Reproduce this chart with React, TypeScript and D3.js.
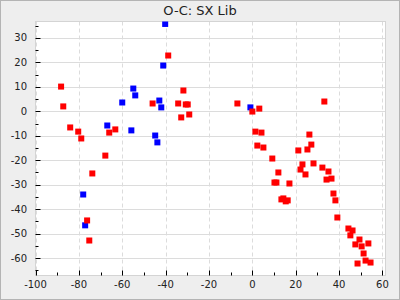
import React from "react";
import * as d3 from "d3";

const title = "O-C: SX Lib";

const redX = [-88.2, -87.2, -84.0, -80.3, -78.9, -66.0, -63.2, -67.8, -73.8, -76.2, -75.2, -46.0, -38.8, -31.8, -34.2, -30.7, -29.8, -32.8, -29.1, -6.9, 0, 3.2, 33.2, 1.4, 4.2, 26.3, 2.3, 5.1, 27.2, 21.2, 25.4, 9.2, 23.1, 22.2, 28.2, 32.3, 35.1, 24.5, 12.0, 10.2, 11.1, 17.1, 34.2, 36.5, 37.4, 38.3, 13.4, 14.3, 15.4, 16.3, 39.2, 44.3, 46.2, 45.2, 49.4, 47.5, 53.5, 50.4, 51.3, 52.2, 54.5, 48.5];
const redY = [10.1, 2.0, -6.6, -8.3, -11.1, -8.7, -7.4, -18.1, -25.4, -44.6, -52.8, 3.2, 22.8, 8.5, 3.2, 2.8, 2.8, -2.5, -1.3, 3.2, -0.1, 1.1, 4.0, -8.3, -8.7, -9.5, -14.0, -14.8, -13.6, -16.0, -15.6, -19.3, -21.7, -23.8, -21.3, -23.0, -24.6, -25.8, -25.0, -29.1, -29.1, -29.5, -27.9, -27.5, -33.6, -36.4, -36.0, -35.6, -36.8, -36.4, -43.4, -47.9, -48.7, -50.7, -52.4, -54.4, -54.0, -55.2, -58.1, -61.0, -61.8, -62.2];
const blueX = [-66.9, -60.0, -54.9, -54.0, -55.8, -44.8, -43.8, -42.9, -42.0, -41.1, -40.2, -78.0, -77.1, -0.9];
const blueY = [-5.8, 3.6, 9.3, 6.5, -7.8, -9.9, -12.7, 4.4, 1.6, 18.7, 35.7, -34.0, -46.6, 1.6];

const xMajor = [-100, -80, -60, -40, -20, 0, 20, 40, 60];
const xMinor = [-90, -70, -50, -30, -10, 10, 30, 50];
const yMajor = [30, 20, 10, 0, -10, -20, -30, -40, -50, -60];
const yMinor = [35, 25, 15, 5, -5, -15, -25, -35, -45, -55, -65];

const W = 400;
const H = 300;
const L = 35.5;
const R = 385.5;
const T = 21.5;
const B = 275.5;

export default function App() {
  const x = d3.scaleLinear().domain([-100, 61.4]).range([L, R]);
  const y = d3.scaleLinear().domain([-67.1, 36.7]).range([B, T]);
  const font = "DejaVu Sans, Verdana, sans-serif";
  const sz = 6;
  const red = redX.map((v, i) => [v, redY[i]]);
  const blue = blueX.map((v, i) => [v, blueY[i]]);
  const px = (v: number) => Math.round(x(v)) + 0.5;
  const py = (v: number) => Math.round(y(v)) + 0.5;
  return (
    <svg width={W} height={H} style={{ position: "fixed", left: 0, top: 0 }}>
      <defs>
        <clipPath id="plotclip">
          <rect x={L} y={T} width={R - L} height={B - T} />
        </clipPath>
      </defs>
      <rect x={0.5} y={0.5} width={W - 1} height={H - 1} fill="#eeeeee" stroke="#b4b4b4" />
      <rect x={L} y={T} width={R - L} height={B - T} fill="#ffffff" />
      {yMajor.map((v) => (
        <line key={"gy" + v} x1={L} x2={R} y1={py(v)} y2={py(v)} stroke="#dcdcdc" />
      ))}
      {xMajor.map((v) => (
        <line key={"gx" + v} x1={px(v)} x2={px(v)} y1={T} y2={B} stroke="#dcdcdc" strokeDasharray="4,3" />
      ))}
      <rect x={L} y={T} width={R - L} height={B - T} fill="none" stroke="#d4d4d4" />
      {yMajor.map((v) => (
        <line key={"ty" + v} x1={L} x2={L + 5} y1={py(v)} y2={py(v)} stroke="#000" />
      ))}
      {yMinor.map((v) => (
        <line key={"tym" + v} x1={L} x2={L + 3} y1={py(v)} y2={py(v)} stroke="#000" />
      ))}
      {xMajor.map((v) => (
        <line key={"tx" + v} x1={px(v)} x2={px(v)} y1={B} y2={B - 5} stroke="#000" />
      ))}
      {xMinor.map((v) => (
        <line key={"txm" + v} x1={px(v)} x2={px(v)} y1={B} y2={B - 3} stroke="#000" />
      ))}
      {yMajor.map((v) => (
        <text key={"ly" + v} x={27} y={y(v) + 3.6} textAnchor="end" fontFamily={font} fontSize={10} fill="#222">
          {v}
        </text>
      ))}
      {xMajor.map((v) => (
        <text key={"lx" + v} x={x(v)} y={287.5} textAnchor="middle" fontFamily={font} fontSize={10} fill="#222">
          {v}
        </text>
      ))}
      <g clipPath="url(#plotclip)">
        {blue.map(([a, b], i) => (
          <rect key={"b" + i} x={x(a) - sz / 2} y={y(b) - sz / 2} width={sz} height={sz} fill="#0000ff" />
        ))}
        {red.map(([a, b], i) => (
          <rect key={"r" + i} x={x(a) - sz / 2} y={y(b) - sz / 2} width={sz} height={sz} fill="#ff0000" />
        ))}
      </g>
      <text x={200} y={15} textAnchor="middle" fontFamily={font} fontSize={13} fill="#222">
        {title}
      </text>
    </svg>
  );
}
